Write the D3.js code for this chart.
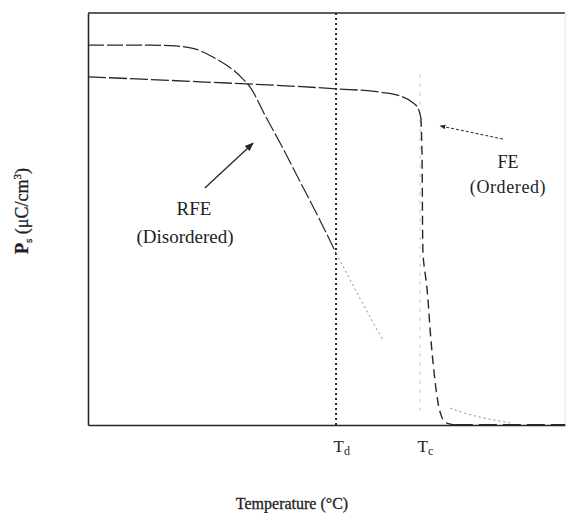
<!DOCTYPE html>
<html>
<head>
<meta charset="utf-8">
<script src="https://cdn.jsdelivr.net/npm/d3@7/dist/d3.min.js"></script>
<style>
  html, body { margin: 0; padding: 0; background: #fff; }
  svg { display: block; }
  text { font-family: "Liberation Serif", "Times New Roman", serif; fill: #1e1e24; }
</style>
</head>
<body>
<svg id="chart" width="567" height="513"></svg>
<script>
// Transition temperatures (arbitrary temperature units, 0-100)
const Td = 52.0;
const Tc = 69.6;

// Relaxor (RFE, disordered) polarization vs temperature
const rfeT = [0, 13.0, 18.2, 22.4, 26.2, 30.4, 32.3, 34.0, 37.1, 40.3, 44.4, 48.2, 52.0, 57.0, 61.8];
const rfeP = [92.2, 92.2, 92.0, 91.3, 89.3, 86.2, 84.2, 82.0, 75.2, 68.4, 59.2, 50.7, 41.7, 30.8, 20.6];

// Normal ferroelectric (FE, ordered) polarization vs temperature
const feT = [0, 23.5, 52.0, 61.2, 65.4, 67.9, 69.2, 69.8, 70.0, 70.2, 71.1, 71.9, 72.5, 73.2, 73.8, 74.8, 76.9, 100];
const feP = [84.5, 83.3, 81.6, 80.8, 79.9, 78.4, 76.9, 74.5, 66.7, 42.5, 32.8, 20.6, 13.3, 6.8, 3.2, 0.7, 0, 0];

// Weak tail above Tc
const tailT = [75.9, 79.0, 82.2, 85.3, 88.5];
const tailP = [4.1, 2.9, 1.9, 1.2, 0.5];

// Axis labels at the transition temperatures
const tickValues = [Td, Tc];
const tickNames = [["T", "d"], ["T", "c"]];

// Annotation arrows: [fromT, fromP, toT, toP]
const rfeArrow = [24.5, 57.5, 34.6, 68.4];
const feArrow = [87.0, 69.4, 73.8, 72.6];

const svg = d3.select("#chart");
const margin = { left: 88, top: 13, right: 2, bottom: 88 };
const W = 567, H = 513;

const x = d3.scaleLinear().domain([0, 100]).range([margin.left, W - margin.right]);
const y = d3.scaleLinear().domain([0, 100]).range([H - margin.bottom, margin.top]);

const ink = "#26262e";

// arrow heads
const defs = svg.append("defs");
defs.append("marker").attr("id", "headSolid")
  .attr("viewBox", "0 0 10 10").attr("refX", 9).attr("refY", 5)
  .attr("markerWidth", 9).attr("markerHeight", 9).attr("orient", "auto")
  .attr("markerUnits", "userSpaceOnUse")
  .append("path").attr("d", "M0,1 L10,5 L0,9 Z").attr("fill", ink);
defs.append("marker").attr("id", "headSmall")
  .attr("viewBox", "0 0 10 10").attr("refX", 9).attr("refY", 5)
  .attr("markerWidth", 6).attr("markerHeight", 6).attr("orient", "auto")
  .attr("markerUnits", "userSpaceOnUse")
  .append("path").attr("d", "M0,1 L10,5 L0,9 Z").attr("fill", ink);

// plot frame
const frame = svg.append("g");
frame.append("line").attr("x1", x(0)).attr("x2", x(100)).attr("y1", y(100)).attr("y2", y(100))
  .attr("stroke", ink).attr("stroke-width", 1.4);
frame.append("line").attr("x1", x(100)).attr("x2", x(100)).attr("y1", y(100)).attr("y2", y(0))
  .attr("stroke", "#e4e4ea").attr("stroke-width", 1);

// axes (frame lines carry no numeric ticks)
const xAxis = svg.append("g").attr("transform", `translate(0,${y(0)})`)
  .call(d3.axisBottom(x).tickValues(tickValues).tickSize(0).tickFormat(() => ""));
xAxis.select(".domain").attr("stroke", ink).attr("stroke-width", 1.6);
xAxis.selectAll(".tick text").remove();
xAxis.selectAll(".tick").each(function (d, i) {
  const t = d3.select(this).append("text")
    .attr("x", -3).attr("y", 27).attr("text-anchor", "start")
    .style("font-size", "17px").attr("fill", ink);
  t.append("tspan").text(tickNames[i][0]);
  t.append("tspan").attr("dy", 3).style("font-size", "12px").text(tickNames[i][1]);
});

const yAxis = svg.append("g").attr("transform", `translate(${x(0)},0)`)
  .call(d3.axisLeft(y).tickValues([]).tickSize(0));
yAxis.select(".domain").attr("stroke", ink).attr("stroke-width", 1.6);

// Td marker line
svg.append("line")
  .attr("x1", x(Td)).attr("x2", x(Td)).attr("y1", y(100)).attr("y2", y(0))
  .attr("stroke", ink).attr("stroke-width", 2).attr("stroke-dasharray", "2 3");

// Tc marker line (faint)
svg.append("line")
  .attr("x1", x(Tc)).attr("x2", x(Tc)).attr("y1", y(85)).attr("y2", y(2))
  .attr("stroke", "#c4c4cc").attr("stroke-width", 1).attr("stroke-dasharray", "3 6");

const line = d3.line().x(d => x(d[0])).y(d => y(d[1])).curve(d3.curveMonotoneX);
const lineY = d3.line().x(d => x(d[0])).y(d => y(d[1])).curve(d3.curveMonotoneY);

// RFE curve: main part up to Td, faint continuation past it
const rfe = rfeT.map((t, i) => [t, rfeP[i]]);
svg.append("path").datum(rfe.filter(d => d[0] <= Td))
  .attr("d", line).attr("fill", "none")
  .attr("stroke", ink).attr("stroke-width", 1.2).attr("stroke-dasharray", "16 3");
svg.append("path").datum(rfe.filter(d => d[0] >= Td))
  .attr("d", line).attr("fill", "none")
  .attr("stroke", "#8a8a94").attr("stroke-width", 1).attr("stroke-dasharray", "2 3");

// FE curve: plateau, then steep drop at Tc
const fe = feT.map((t, i) => [t, feP[i]]);
const feTop = fe.filter(d => d[0] <= 69.8);
const feDrop = fe.filter(d => d[0] >= 69.8 && d[0] <= 76.9);
svg.append("path").datum(feTop)
  .attr("d", line).attr("fill", "none")
  .attr("stroke", ink).attr("stroke-width", 1.3).attr("stroke-dasharray", "18 3");
svg.append("path").datum(feDrop.slice().reverse())
  .attr("d", lineY).attr("fill", "none")
  .attr("stroke", ink).attr("stroke-width", 1.4).attr("stroke-dasharray", "9 5");
svg.append("path").datum(fe.filter(d => d[0] >= 76.9))
  .attr("d", line).attr("fill", "none")
  .attr("stroke", ink).attr("stroke-width", 2).attr("stroke-dasharray", "18 6");

// tail above Tc
svg.append("path").datum(tailT.map((t, i) => [t, tailP[i]]))
  .attr("d", line).attr("fill", "none")
  .attr("stroke", "#8a8a94").attr("stroke-width", 1).attr("stroke-dasharray", "2 3");

// annotation arrows
svg.append("line")
  .attr("x1", x(rfeArrow[0])).attr("y1", y(rfeArrow[1]))
  .attr("x2", x(rfeArrow[2])).attr("y2", y(rfeArrow[3]))
  .attr("stroke", ink).attr("stroke-width", 1.3).attr("marker-end", "url(#headSolid)");
svg.append("line")
  .attr("x1", x(feArrow[0])).attr("y1", y(feArrow[1]))
  .attr("x2", x(feArrow[2])).attr("y2", y(feArrow[3]))
  .attr("stroke", ink).attr("stroke-width", 1).attr("stroke-dasharray", "3 2")
  .attr("marker-end", "url(#headSmall)");

// phase labels
svg.append("text").attr("x", 194).attr("y", 215).attr("text-anchor", "middle")
  .style("font-size", "19px").text("RFE");
svg.append("text").attr("x", 185).attr("y", 243).attr("text-anchor", "middle")
  .style("font-size", "19px").text("(Disordered)");
svg.append("text").attr("x", 508).attr("y", 168).attr("text-anchor", "middle")
  .style("font-size", "18px").attr("fill", "#444").text("FE");
svg.append("text").attr("x", 508).attr("y", 193).attr("text-anchor", "middle")
  .style("font-size", "18px").style("letter-spacing", "0.6px").attr("fill", "#444").text("(Ordered)");

// axis titles
svg.append("text").attr("x", 292).attr("y", 509).attr("text-anchor", "middle")
  .style("font-size", "16px").attr("stroke", "#1e1e24").attr("stroke-width", 0.3).text("Temperature (°C)");

const yt = svg.append("text")
  .attr("transform", "translate(28,211) rotate(-90)")
  .attr("text-anchor", "middle").style("font-size", "18px")
  .attr("stroke", "#1e1e24").attr("stroke-width", 0.3);
yt.append("tspan").style("font-weight", "bold").text("P");
yt.append("tspan").attr("dy", 4).style("font-size", "11px").text("s");
yt.append("tspan").attr("dy", -4).text(" (μC/cm");
yt.append("tspan").attr("dy", -7).style("font-size", "11px").text("3");
yt.append("tspan").attr("dy", 7).text(")");
</script>
</body>
</html>
